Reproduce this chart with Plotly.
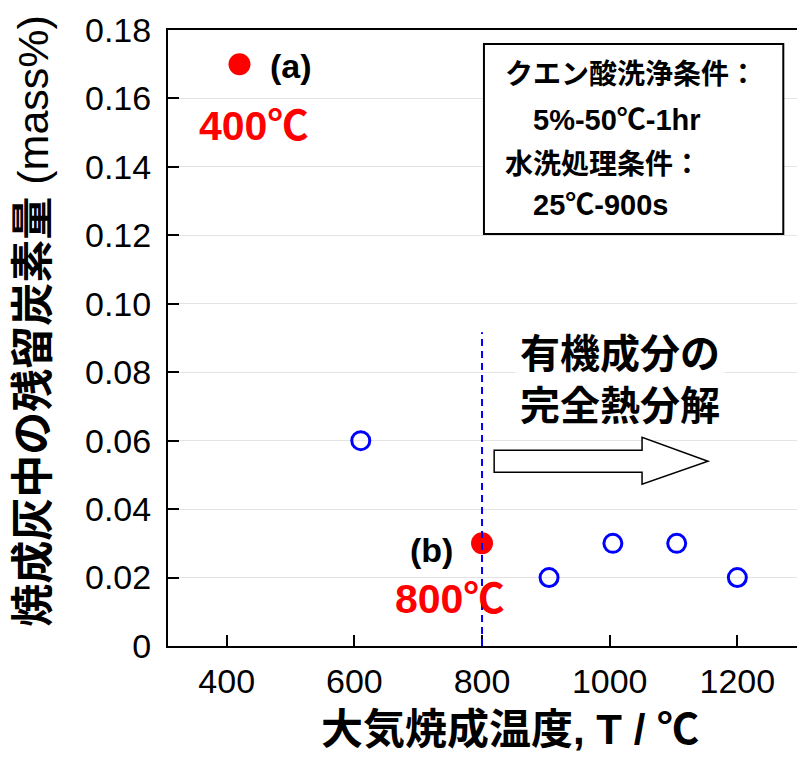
import plotly.graph_objects as go

# Data
fired_x = [420, 800]            # filled red points (a), (b)
fired_y = [0.17, 0.03]
other_x = [610, 905, 1005, 1105, 1200]   # open blue circles
other_y = [0.06, 0.02, 0.03, 0.03, 0.02]

x_ticks = [400, 600, 800, 1000, 1200]
x_tick_labels = ["400", "600", "800", "1000", "1200"]
y_ticks = [0, 0.02, 0.04, 0.06, 0.08, 0.10, 0.12, 0.14, 0.16, 0.18]
y_tick_labels = ["0", "0.02", "0.04", "0.06", "0.08", "0.10", "0.12", "0.14", "0.16", "0.18"]

FONT = "Liberation Sans, Arial, Noto Sans CJK JP"

fig = go.Figure()
fig.add_trace(go.Scatter(
    x=other_x, y=other_y, mode="markers",
    marker=dict(symbol="circle-open", size=18, color="#0000ff", line=dict(width=3, color="#0000ff")),
    hoverinfo="skip", cliponaxis=False))
fig.add_trace(go.Scatter(
    x=fired_x, y=fired_y, mode="markers",
    marker=dict(symbol="circle", size=22, color="#ff0000", line=dict(width=0)),
    hoverinfo="skip", cliponaxis=False))

shapes = []
# dashed vertical line at 800
shapes.append(dict(type="line", xref="x", yref="y", x0=800, x1=800, y0=0, y1=0.0917,
                   line=dict(color="#0000ff", width=2, dash="7px,5px"), layer="above"))
# condition box
shapes.append(dict(type="rect", xref="x", yref="y", x0=803, x1=1272, y0=0.1204, y1=0.1759,
                   line=dict(color="black", width=2), fillcolor="white", layer="above"))
# block arrow
shapes.append(dict(type="path", xref="x", yref="y",
                   path="M 819,0.0508 L 819,0.0572 L 1050.7,0.0572 L 1050.7,0.0610 L 1154,0.0540 "
                        "L 1050.7,0.0473 L 1050.7,0.0508 Z",
                   line=dict(color="black", width=1.5), fillcolor="white", layer="above"))

ann = []
def txt(x, y, text, size, color="black", xanchor="center", **kw):
    d = dict(x=x, y=y, xref="x", yref="y", text=text, showarrow=False,
             font=dict(family=FONT, size=size, color=color), xanchor=xanchor, yanchor="middle")
    d.update(kw)
    ann.append(d)

txt(465, 0.1695, "<b>(a)</b>", 34, xanchor="left")
txt(441.5, 0.152, "<b>400℃</b>", 41, color="#ff0000")
txt(758, 0.028, "<b>(b)</b>", 34, xanchor="right")
txt(749, 0.0137, "<b>800℃</b>", 41, color="#ff0000")

txt(833, 0.1669, "<b>クエン酸洗浄条件：</b>", 28, xanchor="left")
txt(877, 0.1537, "<b>5%-50℃-1hr</b>", 29, xanchor="left")
txt(833, 0.1406, "<b>水洗処理条件：</b>", 28, xanchor="left")
txt(877, 0.1288, "<b>25℃-900s</b>", 29, xanchor="left")

txt(1016, 0.0777, "<b>有機成分の<br>完全熱分解</b>", 40, bgcolor="white", borderpad=4)

# axis titles
ann.append(dict(x=0.537, y=-0.1775, xref="paper", yref="paper", showarrow=False,
                text="<b>大気焼成温度, T / ℃</b>", font=dict(family=FONT, size=42, color="black"),
                xanchor="center", yanchor="bottom"))
ann.append(dict(x=-0.212, y=0.528, xref="paper", yref="paper", showarrow=False, textangle=-90,
                text="<b>焼成灰中の残留炭素量</b> (mass%)", font=dict(family=FONT, size=43, color="black"),
                xanchor="center", yanchor="middle"))

# page body has an 8px margin, so the figure is sized to fill the window from (8, 8)
fig.update_layout(
    width=797, height=749,
    margin=dict(l=160, r=0, t=22, b=111),
    paper_bgcolor="white", plot_bgcolor="white",
    showlegend=False,
    shapes=shapes, annotations=ann,
    font=dict(family=FONT, size=34, color="black"),
)
fig.update_xaxes(range=[308, 1306], tickvals=x_ticks, ticktext=x_tick_labels,
                 ticks="inside", ticklen=11, tickwidth=1.5, tickcolor="black",
                 showline=True, linecolor="black", linewidth=2, mirror=True,
                 showgrid=False, zeroline=False, tickfont=dict(size=34),
                 ticklabelstandoff=4)
fig.update_yaxes(range=[0, 0.18], tickvals=y_ticks, ticktext=y_tick_labels,
                 ticks="inside", ticklen=11, tickwidth=1.5, tickcolor="black",
                 showline=True, linecolor="black", linewidth=2, mirror=False,
                 showgrid=True, gridcolor="#e3e3e3", gridwidth=1, zeroline=False,
                 tickfont=dict(size=34), ticklabelstandoff=8)

fig.write_html("out.html")
